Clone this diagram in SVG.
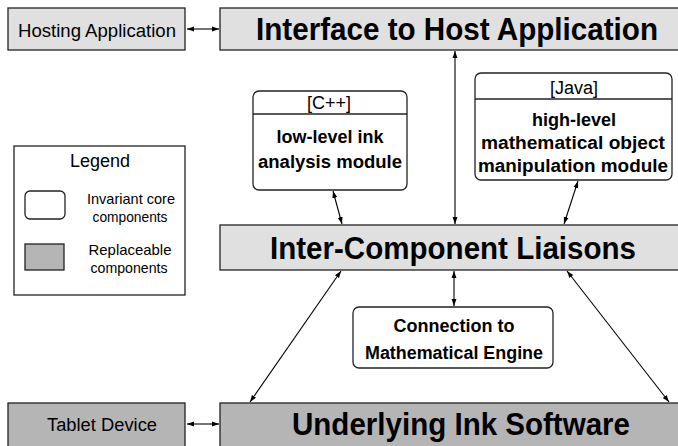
<svg xmlns="http://www.w3.org/2000/svg" width="678" height="446" viewBox="0 0 678 446">
<defs>
<marker id="ah" viewBox="0 0 10 10" refX="10" refY="5" markerWidth="7" markerHeight="7" markerUnits="userSpaceOnUse" orient="auto-start-reverse">
<path d="M0,1.5 L10,5 L0,8.5 z" fill="#000"/>
</marker>
<style>
.lt{fill:#e0e0e0;stroke:#222;stroke-width:1.3}
.dk{fill:#b5b5b5;stroke:#222;stroke-width:1.3}
.wh{fill:#fff;stroke:#222;stroke-width:1.3}
.big{font-family:"Liberation Sans",Arial,sans-serif;font-weight:bold;font-size:32px;text-anchor:middle;fill:#000}
.mid{font-family:"Liberation Sans",Arial,sans-serif;font-weight:bold;font-size:18px;text-anchor:middle;fill:#000}
.reg{font-family:"Liberation Sans",Arial,sans-serif;font-size:18px;text-anchor:middle;fill:#000}
.sm{font-family:"Liberation Sans",Arial,sans-serif;font-size:15px;text-anchor:middle;fill:#000}
.con{stroke:#000;stroke-width:1.1;fill:none;marker-start:url(#ah);marker-end:url(#ah)}
</style>
</defs>
<g id="connectors">
<line class="con" x1="187" y1="29" x2="219" y2="29"/>
<line class="con" x1="187" y1="424" x2="219" y2="424"/>
<line class="con" x1="455" y1="51" x2="455" y2="224"/>
<line class="con" x1="333" y1="191" x2="342" y2="224"/>
<line class="con" x1="578" y1="181" x2="564" y2="224"/>
<line class="con" x1="454" y1="271" x2="454" y2="306"/>
<line class="con" x1="341" y1="271" x2="250" y2="402"/>
<line class="con" x1="567" y1="271" x2="669" y2="402"/>
</g>
<g id="hosting-application">
<rect class="lt" x="8" y="8" width="177" height="42"/>
<text class="reg" x="97" y="37" font-size="19" textLength="158" lengthAdjust="spacingAndGlyphs">Hosting Application</text>
</g>
<g id="interface-host">
<rect class="lt" x="220" y="8" width="470" height="42"/>
<text class="big" x="457" y="40" textLength="402" lengthAdjust="spacingAndGlyphs">Interface to Host Application</text>
</g>
<g id="cpp-module">
<rect class="wh" x="253" y="91" width="154" height="99" rx="6"/>
<line x1="253" y1="114" x2="407" y2="114" stroke="#222" stroke-width="1.3"/>
<text class="reg" x="329" y="109" font-size="17">[C++]</text>
<text class="mid" x="330" y="143">low-level ink</text>
<text class="mid" x="330" y="168" textLength="144" lengthAdjust="spacingAndGlyphs">analysis module</text>
</g>
<g id="java-module">
<rect class="wh" x="475" y="73" width="197" height="107" rx="6"/>
<line x1="475" y1="99" x2="672" y2="99" stroke="#222" stroke-width="1.3"/>
<text class="reg" x="574" y="94" font-size="17">[Java]</text>
<text class="mid" x="574" y="126">high-level</text>
<text class="mid" x="573" y="149" textLength="184" lengthAdjust="spacingAndGlyphs">mathematical object</text>
<text class="mid" x="573" y="172" textLength="190" lengthAdjust="spacingAndGlyphs">manipulation module</text>
</g>
<g id="liaisons">
<rect class="lt" x="220" y="225" width="470" height="45"/>
<text class="big" x="453" y="259" textLength="366" lengthAdjust="spacingAndGlyphs">Inter-Component Liaisons</text>
</g>
<g id="legend">
<rect x="14" y="146" width="171" height="149" fill="#fff" stroke="#222" stroke-width="1.3"/>
<text class="reg" x="100" y="167">Legend</text>
<rect class="wh" x="25" y="191" width="40" height="28" rx="5"/>
<text class="sm" x="131" y="204" textLength="88" lengthAdjust="spacingAndGlyphs">Invariant core</text>
<text class="sm" x="130" y="222" textLength="75" lengthAdjust="spacingAndGlyphs">components</text>
<rect class="dk" x="25" y="244" width="39" height="26"/>
<text class="sm" x="130" y="255" textLength="83" lengthAdjust="spacingAndGlyphs">Replaceable</text>
<text class="sm" x="129" y="273" textLength="77" lengthAdjust="spacingAndGlyphs">components</text>
</g>
<g id="math-engine">
<rect class="wh" x="353" y="307" width="200" height="61" rx="6"/>
<text class="mid" x="454" y="332">Connection to</text>
<text class="mid" x="454" y="359" textLength="178" lengthAdjust="spacingAndGlyphs">Mathematical Engine</text>
</g>
<g id="tablet-device">
<rect class="dk" x="8" y="403" width="177" height="50"/>
<text class="reg" x="102" y="431" font-size="19" textLength="110" lengthAdjust="spacingAndGlyphs">Tablet Device</text>
</g>
<g id="underlying-ink">
<rect class="dk" x="220" y="403" width="470" height="50"/>
<text class="big" x="461" y="435" textLength="338" lengthAdjust="spacingAndGlyphs">Underlying Ink Software</text>
</g>
</svg>
